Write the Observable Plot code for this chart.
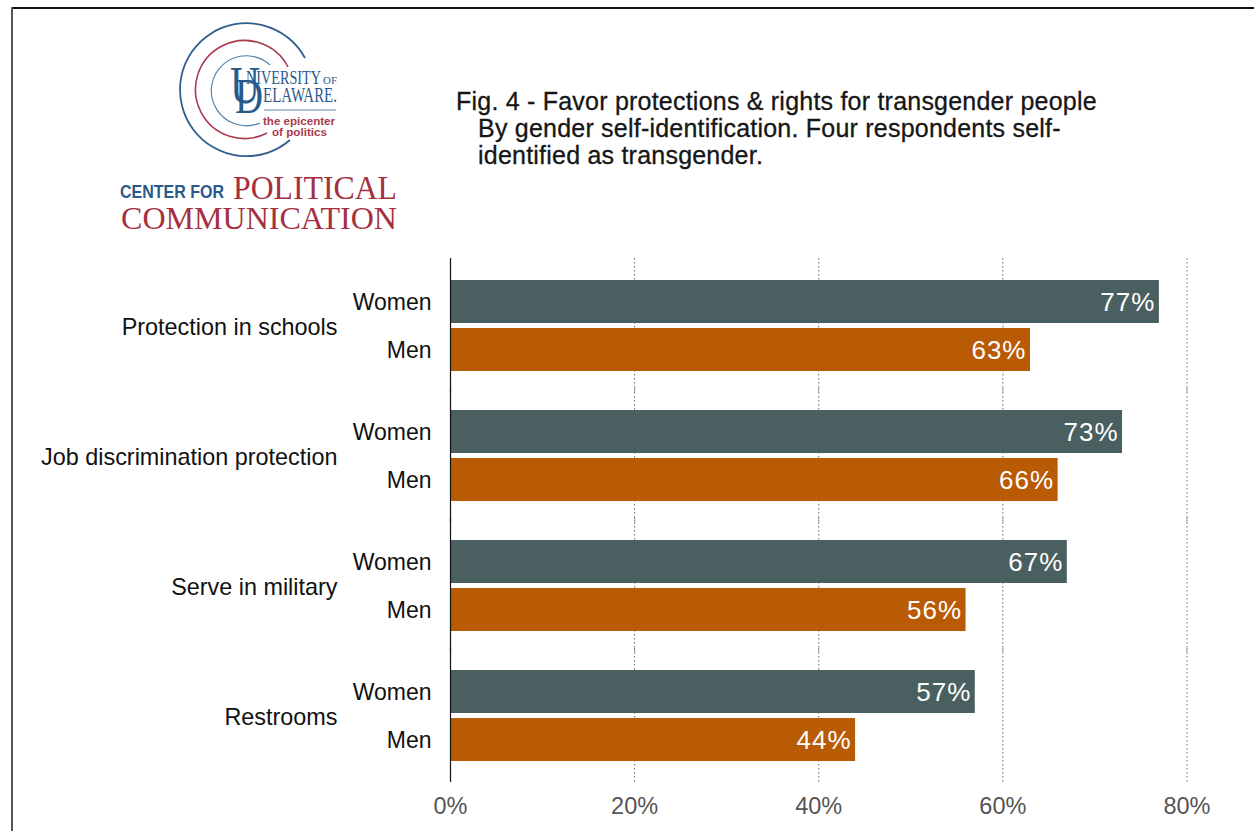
<!DOCTYPE html>
<html>
<head>
<meta charset="utf-8">
<script src="https://cdn.jsdelivr.net/npm/d3@7"></script>
<script src="https://cdn.jsdelivr.net/npm/@observablehq/plot@0.6"></script>
<style>
html,body{margin:0;padding:0;background:#fff;width:1254px;height:831px;overflow:hidden;font-family:"Liberation Sans",Arial,sans-serif}
#frameTop{position:absolute;left:11px;top:7px;right:0;height:1.5px;background:#111}
#frameLeft{position:absolute;left:11px;top:7px;bottom:0;width:2px;background:#555}
#title{position:absolute;left:456px;top:88px;font-size:25px;letter-spacing:.22px;line-height:27px;color:#161616;white-space:nowrap;-webkit-text-stroke:.3px #161616}
#title div:nth-child(n+2){padding-left:22px}
#logo{position:absolute;left:0;top:0}
#chart{position:absolute;left:0;top:0}
#chart g[aria-label="text"] text{letter-spacing:1px}
#chart g[aria-label="y-axis tick label"] text,#chart g[aria-label="fy-axis tick label"] text{-webkit-text-stroke:.25px #111}
</style>
</head>
<body>
<div id="chart"></div>
<div id="frameTop"></div>
<div id="frameLeft"></div>
<svg id="logo" width="420" height="240" xmlns="http://www.w3.org/2000/svg">
  <g fill="none">
    <path d="M305 58 A66.5 66.5 0 1 0 290 140" stroke="#2f5f8f" stroke-width="1.8"/>
    <path d="M288 67 A49 49 0 1 0 267 133" stroke="#a93b4c" stroke-width="1.6"/>
    <path d="M270 65 A35 35 0 1 0 260 123" stroke="#4f7ea6" stroke-width="1.1"/>
    <line x1="264" x2="336" y1="110" y2="110" stroke="#8fb0cc" stroke-width="1.3"/>
  </g>
  <g font-family="Liberation Serif, serif" fill="#2a5a8c">
    <text x="230" y="103" font-size="52" textLength="30" lengthAdjust="spacingAndGlyphs">U</text>
    <text x="235" y="113" font-size="50" textLength="28" lengthAdjust="spacingAndGlyphs">D</text>
    <text x="246" y="84" font-size="18" textLength="75" lengthAdjust="spacingAndGlyphs">NIVERSITY</text>
    <text x="323" y="84" font-size="10" textLength="14" lengthAdjust="spacingAndGlyphs">OF</text>
    <text x="263" y="102" font-size="21" textLength="74" lengthAdjust="spacingAndGlyphs">ELAWARE.</text>
  </g>
  <g font-family="Liberation Sans, sans-serif" font-weight="700" fill="#a93b4c" font-size="11.5">
    <text x="263" y="125" textLength="72" lengthAdjust="spacingAndGlyphs">the epicenter</text>
    <text x="272" y="136" textLength="55" lengthAdjust="spacingAndGlyphs">of politics</text>
  </g>
  <text x="120" y="198" font-family="Liberation Sans, sans-serif" font-weight="700" font-size="18" fill="#2a5a8c" textLength="104" lengthAdjust="spacingAndGlyphs">CENTER FOR</text>
  <text x="233" y="199" font-family="Liberation Serif, serif" font-size="33" fill="#a5303f" textLength="164" lengthAdjust="spacingAndGlyphs">POLITICAL</text>
  <text x="121" y="229" font-family="Liberation Serif, serif" font-size="32" fill="#a5303f" textLength="276" lengthAdjust="spacingAndGlyphs">COMMUNICATION</text>
</svg>
<div id="title"><div>Fig. 4 - Favor protections &amp; rights for transgender people</div><div>By gender self-identification. Four respondents self-</div><div>identified as transgender.</div></div>
<script>
const questions = ["Protection in schools", "Job discrimination protection", "Serve in military", "Restrooms"];
const genders = ["Women", "Men"];
const women = [77, 73, 67, 57];
const men = [63, 66, 56, 44];
const xTicks = [0, 20, 40, 60, 80];
const gridTicks = [20, 40, 60, 80];
const colors = ["#4a5f60", "#b95a05"];

const rows = questions.flatMap((q, i) => [
  {question: q, gender: genders[0], value: women[i]},
  {question: q, gender: genders[1], value: men[i]}
]);

const chart = Plot.plot({
  width: 1254,
  height: 831,
  marginLeft: 450,
  marginRight: 67.5,
  marginTop: 261,
  marginBottom: 50,
  style: {background: "transparent", fontFamily: "Liberation Sans, Arial, sans-serif"},
  x: {domain: [0, 80]},
  y: {domain: genders, paddingInner: 0.104, paddingOuter: 0.406},
  fy: {domain: questions, padding: 0},
  color: {domain: genders, range: colors},
  marks: [
    Plot.ruleX(gridTicks, {stroke: "#666", strokeWidth: 1, strokeDasharray: "1.5 2.5", facet: false, insetTop: -3, insetBottom: -1}),
    Plot.barX(rows, {x: "value", y: "gender", fy: "question", fill: "gender"}),
    Plot.ruleX([0], {stroke: "#111", strokeWidth: 1.2, facet: false, insetTop: -3, insetBottom: -1}),
    Plot.text(rows, {x: "value", y: "gender", fy: "question", text: d => d.value + "%", dx: -4, dy: 0.5, textAnchor: "end", fill: "white", fontSize: 26}),
    Plot.axisY({anchor: "left", tickSize: 0, tickPadding: 19, dy: 0.5, fontSize: 23, label: null, color: "#111"}),
    Plot.axisFy({anchor: "left", tickSize: 0, tickPadding: 113, dy: 1, fontSize: 23.4, label: null, color: "#111"}),
    Plot.axisX({ticks: xTicks, tickFormat: d => d + "%", tickSize: 0, tickPadding: 16, fontSize: 23.5, label: null, color: "#555"})
  ]
});
document.getElementById("chart").append(chart);
</script>
</body>
</html>
